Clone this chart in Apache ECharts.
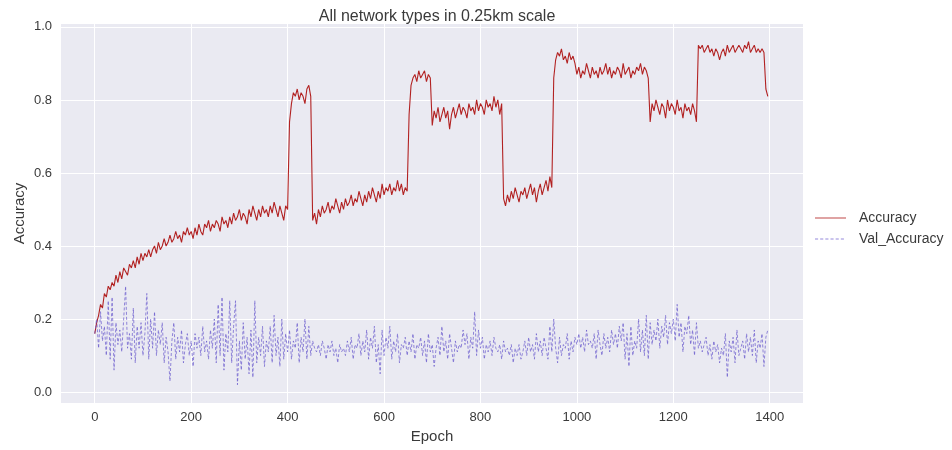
<!DOCTYPE html>
<html>
<head>
<meta charset="utf-8">
<script src="https://cdn.jsdelivr.net/npm/echarts@6/dist/echarts.min.js"></script>
<style>html,body{margin:0;padding:0;background:#fff}#c{width:952px;height:450px}</style>
</head>
<body>
<div id="c"></div>
<script>
var EPOCH_STEP = 4;
var xTicks = [0, 200, 400, 600, 800, 1000, 1200, 1400];
var yTicks = [0.0, 0.2, 0.4, 0.6, 0.8, 1.0];

var accuracy = [
0.16,0.19,0.21,0.24,0.23,0.27,0.26,0.29,0.28,0.30,
0.29,0.32,0.30,0.33,0.31,0.34,0.33,0.32,0.35,0.34,
0.36,0.34,0.37,0.35,0.38,0.36,0.38,0.37,0.39,0.37,
0.39,0.40,0.38,0.41,0.39,0.40,0.42,0.40,0.41,0.43,
0.41,0.42,0.44,0.42,0.43,0.41,0.44,0.43,0.45,0.43,
0.44,0.42,0.45,0.43,0.46,0.44,0.43,0.46,0.45,0.47,
0.44,0.46,0.45,0.47,0.46,0.44,0.48,0.46,0.47,0.45,
0.48,0.46,0.49,0.47,0.48,0.50,0.47,0.49,0.48,0.46,
0.50,0.48,0.51,0.49,0.47,0.50,0.48,0.51,0.49,0.50,
0.48,0.51,0.49,0.52,0.50,0.48,0.51,0.49,0.47,0.51,
0.50,0.74,0.79,0.82,0.81,0.83,0.80,0.82,0.81,0.79,0.83,0.84,0.81,
0.47,
0.49,0.46,0.50,0.48,0.51,0.49,0.50,0.52,0.49,
0.51,0.50,0.53,0.51,0.49,0.52,0.50,0.53,0.51,0.52,
0.54,0.51,0.53,0.52,0.55,0.53,0.51,0.54,0.52,0.55,
0.53,0.56,0.54,0.52,0.55,0.53,0.57,0.54,0.56,0.55,
0.57,0.54,0.56,0.55,0.58,0.55,0.57,0.54,0.56,0.55,
0.76,0.84,0.86,0.87,0.85,0.88,0.86,0.87,0.88,0.85,0.87,0.86,
0.73,
0.77,0.75,0.78,0.74,0.76,0.78,0.75,0.77,0.72,
0.76,0.78,0.75,0.77,0.79,0.76,0.78,0.77,0.75,0.79,
0.77,0.78,0.76,0.80,0.77,0.79,0.78,0.76,0.80,0.78,
0.79,0.77,0.81,0.78,0.80,0.76,0.79,
0.53,
0.51,
0.54,0.52,0.55,0.53,0.56,0.54,0.52,0.55,0.54,0.56,
0.53,0.55,0.57,0.54,0.56,0.52,0.55,0.57,0.54,0.56,0.58,0.55,0.59,0.56,
0.86,0.91,0.93,0.92,0.94,0.91,0.92,0.90,0.93,0.91,0.92,0.90,
0.87,0.89,0.86,0.88,0.87,0.90,0.88,0.86,0.89,0.87,
0.88,0.86,0.89,0.87,0.88,0.90,0.87,0.89,0.86,0.88,
0.87,0.89,0.88,0.86,0.90,0.87,0.88,0.89,0.86,0.88,
0.87,0.89,0.88,0.90,0.87,0.89,0.88,0.86,
0.74,
0.79,0.77,0.80,0.78,0.76,0.79,0.78,0.75,0.80,0.77,
0.79,0.78,0.76,0.80,0.77,0.78,0.75,0.79,0.77,0.78,0.76,0.79,0.77,0.74,
0.95,
0.94,0.95,0.93,0.94,0.95,0.93,0.94,0.92,0.94,0.93,
0.91,0.93,0.94,0.92,0.95,0.93,0.94,0.95,0.93,0.94,
0.95,0.94,0.93,0.95,0.94,0.96,0.93,0.94,0.95,0.93,0.94,0.93,
0.94,0.93,
0.83,0.81
];

var valAccuracy = [
0.16,0.20,0.12,0.22,0.14,0.18,0.10,0.25,0.09,0.26,
0.06,0.19,0.13,0.17,0.11,0.20,0.29,0.12,0.16,0.09,
0.23,0.08,0.18,0.12,0.19,0.10,0.16,0.27,0.09,0.20,
0.12,0.22,0.10,0.17,0.13,0.19,0.08,0.15,0.11,0.03,
0.14,0.19,0.09,0.15,0.11,0.17,0.08,0.13,0.16,0.10,
0.14,0.07,0.16,0.12,0.15,0.10,0.18,0.11,0.14,0.09,
0.17,0.12,0.20,0.08,0.24,0.10,0.26,0.06,0.16,0.11,
0.25,0.08,0.18,0.25,0.02,0.14,0.06,0.19,0.09,0.15,
0.05,0.17,0.04,0.25,0.08,0.15,0.10,0.18,0.07,0.14,
0.11,0.18,0.08,0.21,0.10,0.15,0.07,0.20,0.09,0.16,
0.11,0.17,0.09,0.14,0.12,0.19,0.08,0.15,0.11,0.20,
0.09,0.18,0.10,0.14,0.12,0.11,0.13,0.10,0.14,0.12,
0.09,0.13,0.11,0.14,0.10,0.12,0.08,0.13,0.11,0.12,
0.10,0.14,0.11,0.15,0.09,0.13,0.12,0.16,0.10,0.14,
0.11,0.17,0.09,0.15,0.12,0.18,0.08,0.13,0.05,0.17,
0.10,0.15,0.12,0.18,0.09,0.14,0.11,0.16,0.08,0.13,
0.12,0.15,0.10,0.14,0.11,0.16,0.09,0.13,0.12,0.15,
0.10,0.14,0.08,0.16,0.11,0.13,0.07,0.12,0.15,0.10,
0.18,0.11,0.14,0.09,0.16,0.12,0.08,0.14,0.11,0.13,
0.12,0.17,0.13,0.16,0.09,0.15,0.12,0.22,0.10,0.17,
0.12,0.15,0.09,0.13,0.11,0.14,0.10,0.15,0.12,0.11,
0.13,0.09,0.14,0.11,0.12,0.10,0.13,0.08,0.12,0.10,
0.13,0.09,0.11,0.14,0.10,0.15,0.11,0.13,0.09,0.16,
0.11,0.14,0.10,0.15,0.12,0.09,0.18,0.11,0.20,0.12,
0.08,0.15,0.10,0.13,0.12,0.16,0.09,0.14,0.11,0.15,
0.13,0.16,0.12,0.15,0.11,0.17,0.13,0.14,0.12,0.16,
0.09,0.17,0.13,0.10,0.16,0.12,0.15,0.11,0.17,0.13,
0.16,0.12,0.18,0.14,0.19,0.09,0.16,0.07,0.18,0.10,
0.14,0.12,0.20,0.11,0.17,0.10,0.21,0.09,0.19,0.13,
0.17,0.14,0.20,0.12,0.18,0.15,0.21,0.13,0.19,0.16,
0.20,0.14,0.24,0.15,0.19,0.11,0.18,0.16,0.21,0.13,
0.17,0.10,0.19,0.12,0.14,0.11,0.13,0.15,0.10,0.13,
0.09,0.14,0.11,0.13,0.08,0.12,0.10,0.16,0.04,0.14,
0.11,0.15,0.08,0.17,0.10,0.12,0.14,0.09,0.16,0.11,
0.15,0.10,0.17,0.08,0.14,0.12,0.16,0.07,0.15,0.17
];

function pairs(arr) {
  var out = [];
  for (var i = 0; i < arr.length; i++) out.push([i * EPOCH_STEP, arr[i]]);
  return out;
}

var FONT = 'Liberation Sans, Arial, sans-serif';
var TXT = '#3a3a3a';
var RED = '#b22222';
var BLUE = '#6a5acd';
var SOLID_ICON = 'path://M0,0h30v1h-30z';
var DASH_ICON = 'path://M0,0h3v1h-3z M5,0h3v1h-3z M10,0h3v1h-3z M15,0h3v1h-3z M20,0h3v1h-3z M25,0h3v1h-3z M30,0h0v1h0z';

var chart = echarts.init(document.getElementById('c'), null, {renderer: 'canvas'});
chart.setOption({
  animation: false,
  backgroundColor: '#ffffff',
  title: {
    text: 'All network types in 0.25km scale',
    left: 432, textAlign: 'center', top: 4,
    textStyle: {fontFamily: FONT, fontSize: 16, fontWeight: 'normal', color: TXT}
  },
  legend: {
    orient: 'vertical', left: 810, top: 206,
    itemWidth: 31, itemHeight: 14, itemGap: 7,
    symbolKeepAspect: true,
    textStyle: {fontFamily: FONT, fontSize: 14, color: TXT, padding: [0, 0, 0, 8]},
    data: [
      {name: 'Accuracy', icon: SOLID_ICON, itemStyle: {color: RED, opacity: 0.8}},
      {name: 'Val_Accuracy', icon: DASH_ICON, itemStyle: {color: BLUE, opacity: 0.7}}
    ]
  },
  grid: {
    left: 61, right: 149, top: 24, bottom: 47,
    show: true, backgroundColor: '#EAEAF2', borderWidth: 0
  },
  xAxis: {
    type: 'value', min: -70, max: 1469,
    name: 'Epoch', nameLocation: 'middle', nameGap: 23,
    nameTextStyle: {fontFamily: FONT, fontSize: 15, color: TXT},
    axisLine: {show: false}, axisTick: {show: false, customValues: xTicks},
    axisLabel: {customValues: xTicks, margin: 8, fontFamily: FONT, fontSize: 13, color: TXT,
      formatter: function (v) { return String(v); }},
    splitLine: {show: true, lineStyle: {color: '#ffffff', width: 1}}
  },
  yAxis: {
    type: 'value', min: -0.030, max: 1.008,
    name: 'Accuracy', nameLocation: 'middle', nameGap: 34, nameMoveOverlap: false,
    nameTextStyle: {fontFamily: FONT, fontSize: 15, color: TXT},
    axisLine: {show: false}, axisTick: {show: false, customValues: yTicks},
    axisLabel: {customValues: yTicks, margin: 9, fontFamily: FONT, fontSize: 13, color: TXT,
      formatter: function (v) { return v.toFixed(1); }},
    splitLine: {show: true, lineStyle: {color: '#ffffff', width: 1}}
  },
  series: [
    {
      name: 'Accuracy', type: 'line', data: pairs(accuracy),
      symbol: 'none', showSymbol: false,
      lineStyle: {color: RED, width: 1.1},
      itemStyle: {color: RED}
    },
    {
      name: 'Val_Accuracy', type: 'line', data: pairs(valAccuracy),
      symbol: 'none', showSymbol: false,
      lineStyle: {color: BLUE, width: 0.9, type: [3, 2], opacity: 0.8},
      itemStyle: {color: BLUE}
    }
  ]
});
</script>
</body>
</html>
